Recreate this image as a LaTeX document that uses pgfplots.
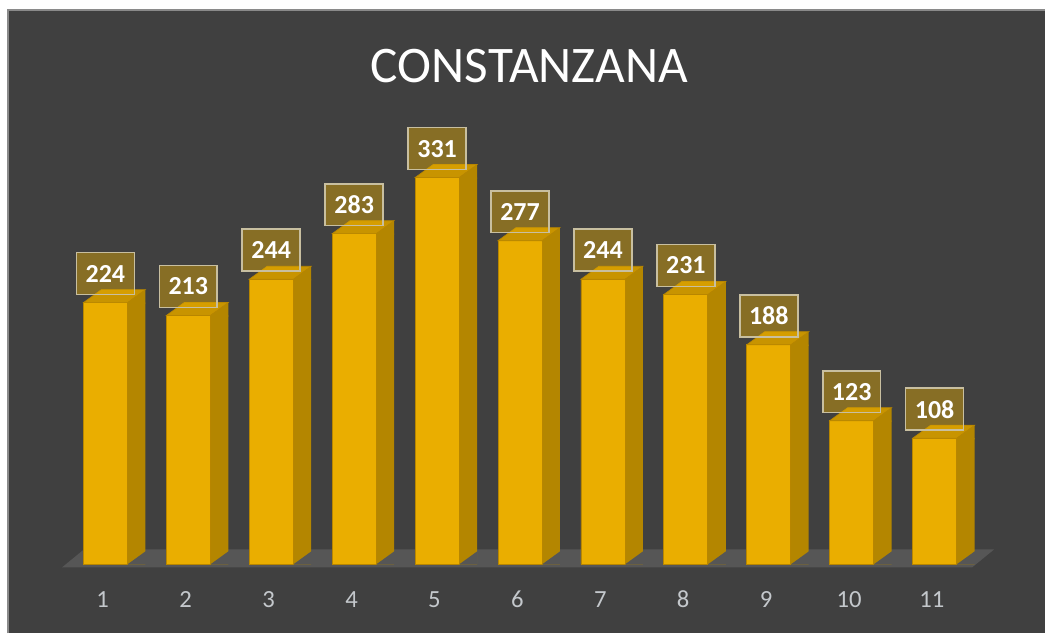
\documentclass[border=0pt]{standalone}
\usepackage{fontspec}
\setmainfont{Carlito}
\usepackage{pgfplots}
\usepackage{pgfplotstable}
\pgfplotsset{compat=1.18}
\definecolor{bg}{HTML}{404040}
\definecolor{frameline}{HTML}{8A8A8A}
\definecolor{gold}{HTML}{EAAE00}
\definecolor{goldedge}{HTML}{B88600}
\definecolor{goldside}{HTML}{B48600}
\definecolor{goldtop}{HTML}{C89400}
\definecolor{floorcol}{HTML}{565656}
\definecolor{ticklab}{HTML}{C4C8CC}
\definecolor{labborder}{HTML}{C8BFA0}
\newcommand{\PX}[2]{({(#1-22.5)*0.75pt},{(565-#2)*0.75pt})}
% top face of a 3D bar (and upper corner of its side face), drawn at the bar's top
\pgfdeclareplotmark{bartop}{%
  \pgfpathmoveto{\pgfpoint{16.5pt}{-0.8pt}}%
  \pgfpathlineto{\pgfpoint{16.5pt}{0pt}}%
  \pgfpathlineto{\pgfpoint{30pt}{9.75pt}}%
  \pgfpathlineto{\pgfpoint{30pt}{-0.8pt}}%
  \pgfpathclose
  \pgfsetfillcolor{goldside}%
  \pgfusepath{fill}%
  \pgfpathmoveto{\pgfpoint{-16.5pt}{0pt}}%
  \pgfpathlineto{\pgfpoint{-3pt}{9.75pt}}%
  \pgfpathlineto{\pgfpoint{30pt}{9.75pt}}%
  \pgfpathlineto{\pgfpoint{16.5pt}{0pt}}%
  \pgfpathclose
  \pgfsetfillcolor{goldtop}%
  \pgfsetstrokecolor{goldedge}%
  \pgfsetlinewidth{0.5pt}%
  \pgfusepath{fill,stroke}%
}
% floor-coloured corner below the side face, drawn at the bar's base
\pgfdeclareplotmark{basetri}{%
  \pgfpathmoveto{\pgfpoint{16.5pt}{0pt}}%
  \pgfpathlineto{\pgfpoint{30.5pt}{0pt}}%
  \pgfpathlineto{\pgfpoint{30.5pt}{9.75pt}}%
  \pgfpathlineto{\pgfpoint{30pt}{9.75pt}}%
  \pgfpathclose
  \pgfsetfillcolor{floorcol}%
  \pgfusepath{fill}%
}
\pgfplotstableread{
x v
1 224
2 213
3 244
4 283
5 331
6 277
7 244
8 231
9 188
10 123
11 108
}\datatable
\begin{document}
\begin{tikzpicture}
\fill[white] \PX{0}{0} rectangle \PX{1046}{634};
\fill[bg] \PX{8}{10} rectangle \PX{1046}{634};
\draw[frameline, line width=1.5pt] \PX{8}{634} -- \PX{8}{10} -- \PX{1046}{10};
\node[anchor=base, text=white, font=\fontsize{38.5}{40}\selectfont, inner sep=0pt] at \PX{530}{83} {CONSTANZANA};
\fill[floorcol] \PX{62}{568} -- \PX{973}{568} -- \PX{995}{550} -- \PX{84}{550} -- cycle;
\begin{axis}[
  at={(0,0)}, anchor=south west,
  x=62.25pt, y=0.8775pt,
  xmin=0, xmax=12, ymin=0, ymax=400,
  clip=false,
  axis line style={draw=none},
  tick style={draw=none},
  ytick=\empty,
  xtick={1,...,11},
  /pgf/number format/assume math mode=true,
  xticklabel style={text=ticklab, font=\fontsize{18.5}{20}\selectfont, anchor=center, yshift=-26.25pt, xshift=-2pt},
]
% side faces
\addplot[ybar, bar width=13.5pt, bar shift=23.25pt, fill=goldside, draw=none] table[x=x, y=v] {\datatable};
% lower corner of side faces (floor)
\addplot[only marks, mark=basetri] table[x=x, y expr=0] {\datatable};
% top faces
\addplot[only marks, mark=bartop] table[x=x, y=v] {\datatable};
% front faces
\addplot[ybar, bar width=33pt, bar shift=0pt, fill=gold, draw=goldedge, line width=0.6pt] table[x=x, y=v] {\datatable};
% data labels
\addplot[draw=none, mark=none, nodes near coords,
  every node near coord/.append style={anchor=center, yshift=21.75pt,
    fill=gold, fill opacity=0.42, text opacity=1, draw=labborder, line width=1.2pt,
    minimum width=43.5pt, minimum height=31.5pt, inner sep=0pt, text=white,
    font=\bfseries\fontsize{19.5}{20}\selectfont},
] table[x=x, y=v] {\datatable};
\end{axis}
\end{tikzpicture}
\end{document}
